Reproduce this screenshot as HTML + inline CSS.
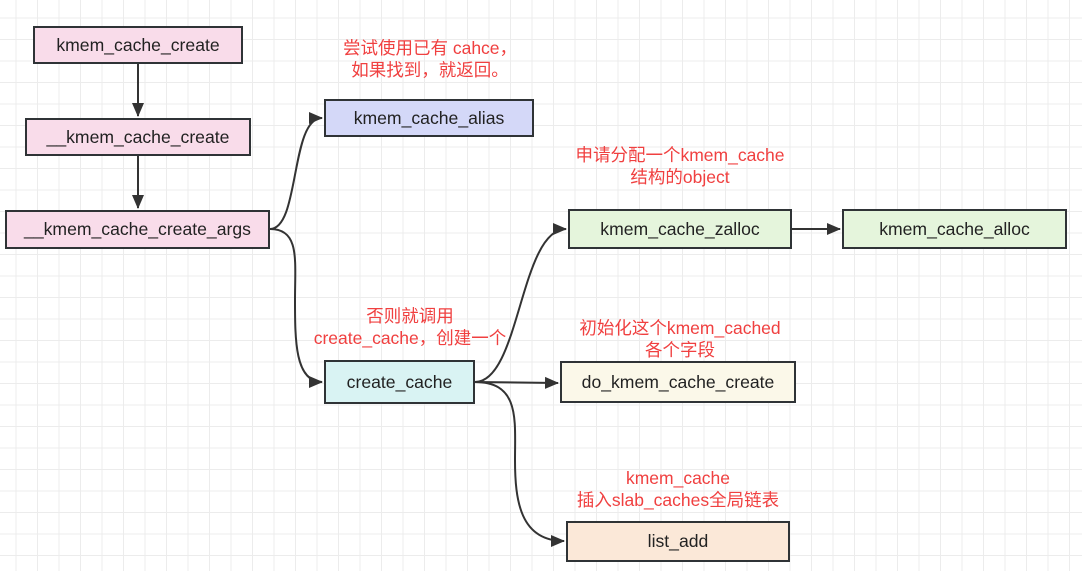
<!DOCTYPE html>
<html><head><meta charset="utf-8"><style>
html,body{margin:0;padding:0}
body{width:1082px;height:571px;overflow:hidden;position:relative;background-color:#fff;
background-image:linear-gradient(#ececec 1px,transparent 1px),linear-gradient(90deg,#ececec 1px,transparent 1px);
background-size:21.5px 21.5px;background-position:-6px -4px;
font-family:"Liberation Sans","Noto Sans CJK SC",sans-serif}
.b{position:absolute;box-sizing:border-box;border:2px solid #2f3336;display:flex;align-items:center;justify-content:center;font-size:17.6px;color:#222}
.t{position:absolute;color:#f04040;font-size:17.5px;text-align:center;line-height:22px;white-space:nowrap}
svg{position:absolute;left:0;top:0}
</style></head><body>
<svg width="1082" height="571">
<defs><marker id="a" markerWidth="14" markerHeight="14" refX="13" refY="7" orient="auto" markerUnits="userSpaceOnUse"><path d="M0,1 L14,7 L0,13 z" fill="#333"/></marker></defs>
<g stroke="#333" stroke-width="2" fill="none">
<path d="M138 64 V116" marker-end="url(#a)"/>
<path d="M138 156 V208" marker-end="url(#a)"/>
<path d="M270 229 C300 229 290 118 322 118" marker-end="url(#a)"/>
<path d="M270 229 C300 229 295 260 295 300 C295 340 295 382 322 382" marker-end="url(#a)"/>
<path d="M475 382 C520 382 520 229 566 229" marker-end="url(#a)"/>
<path d="M475 382 L558 383" marker-end="url(#a)"/>
<path d="M475 382 C520 382 515 420 515 460 C515 500 520 541 564 541" marker-end="url(#a)"/>
<path d="M792 229 H840" marker-end="url(#a)"/>
</g></svg>
<div class="b" style="left:33px;top:26px;width:210px;height:38px;background:#f9dcea">kmem_cache_create</div>
<div class="b" style="left:25px;top:118px;width:226px;height:38px;background:#f9dcea">__kmem_cache_create</div>
<div class="b" style="left:5px;top:210px;width:265px;height:39px;background:#f9dcea">__kmem_cache_create_args</div>
<div class="b" style="left:324px;top:99px;width:210px;height:38px;background:#d4d8f8">kmem_cache_alias</div>
<div class="b" style="left:324px;top:360px;width:151px;height:44px;background:#d9f3f3">create_cache</div>
<div class="b" style="left:568px;top:209px;width:224px;height:40px;background:#e5f5dc">kmem_cache_zalloc</div>
<div class="b" style="left:842px;top:209px;width:225px;height:40px;background:#e5f5dc">kmem_cache_alloc</div>
<div class="b" style="left:560px;top:361px;width:236px;height:42px;background:#fbf8e9">do_kmem_cache_create</div>
<div class="b" style="left:566px;top:521px;width:224px;height:41px;background:#fbe8d8">list_add</div>
<div class="t" style="left:330px;top:37px;width:200px">尝试使用已有 cahce，<br>如果找到，就返回。</div>
<div class="t" style="left:560px;top:144px;width:240px">申请分配一个kmem_cache<br>结构的object</div>
<div class="t" style="left:300px;top:305px;width:220px">否则就调用<br>create_cache，创建一个</div>
<div class="t" style="left:560px;top:317px;width:240px">初始化这个kmem_cached<br>各个字段</div>
<div class="t" style="left:560px;top:467px;width:236px">kmem_cache<br>插入slab_caches全局链表</div>
</body></html>
